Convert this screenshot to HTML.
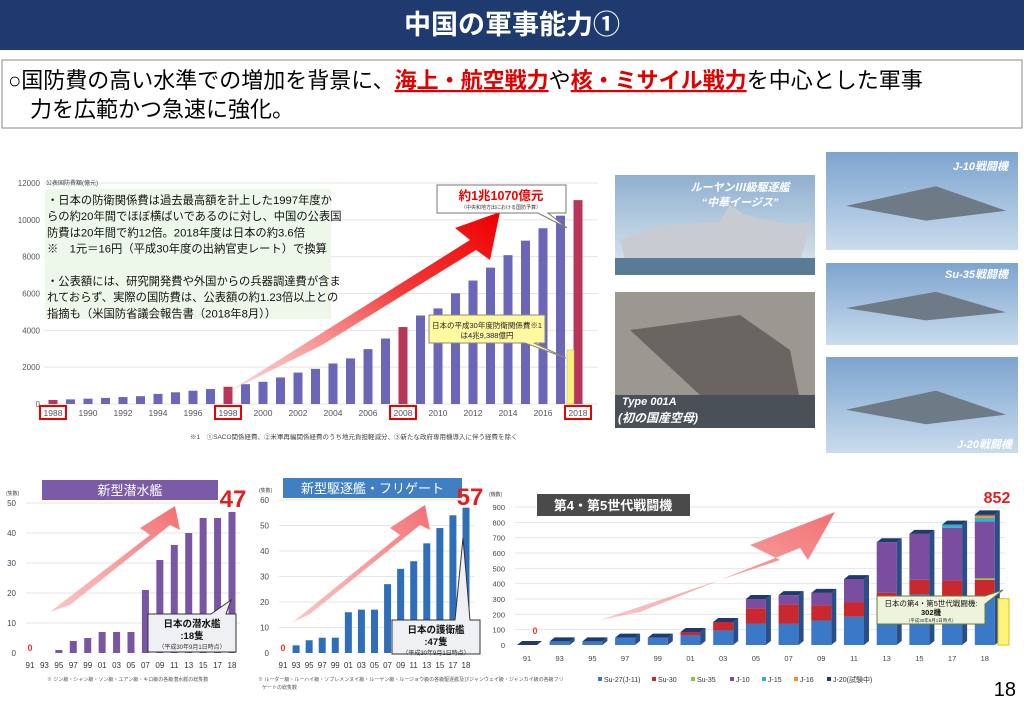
<!DOCTYPE html>
<html><head><meta charset="utf-8">
<style>
html,body{margin:0;padding:0;background:#fff;}
body{width:1024px;height:706px;overflow:hidden;font-family:"Liberation Sans","Noto Sans CJK JP",sans-serif;}
svg text{font-family:"Liberation Sans","Noto Sans CJK JP",sans-serif;}
</style></head><body>
<svg id="s" width="1024" height="706" viewBox="0 0 1024 706" xmlns="http://www.w3.org/2000/svg">
<defs>
<linearGradient id="ar" x1="0" y1="1" x2="1" y2="0"><stop offset="0" stop-color="#f8b0b0" stop-opacity="0.5"/><stop offset="0.6" stop-color="#f23a3a"/><stop offset="1" stop-color="#ee0000"/></linearGradient>
<linearGradient id="pk" x1="0" y1="1" x2="1" y2="0"><stop offset="0" stop-color="#f7a0a0" stop-opacity="0.6"/><stop offset="1" stop-color="#f26f72"/></linearGradient>
<linearGradient id="sky1" x1="0" y1="0" x2="0" y2="1"><stop offset="0" stop-color="#8fb0d0"/><stop offset="1" stop-color="#dfe8f0"/></linearGradient>
<linearGradient id="sky2" x1="0" y1="0" x2="0" y2="1"><stop offset="0" stop-color="#7da4cf"/><stop offset="1" stop-color="#c9dced"/></linearGradient>
</defs>
<rect x="0" y="0" width="1024" height="50" fill="#1f3a6e"/>
<text x="512" y="34" font-size="27" font-weight="bold" fill="#fff" text-anchor="middle">中国の軍事能力①</text>
<rect x="2" y="60" width="1020" height="68" fill="#fff" stroke="#888" stroke-width="1"/>
<text x="8" y="88" font-size="22" fill="#000">○国防費の高い水準での増加を背景に、<tspan fill="#e00000" font-weight="bold" text-decoration="underline">海上・航空戦力</tspan>や<tspan fill="#e00000" font-weight="bold" text-decoration="underline">核・ミサイル戦力</tspan>を中心とした軍事</text>
<text x="30" y="117" font-size="22" fill="#000">力を広範かつ急速に強化。</text>
<g id="top"></g>
<g id="photos"></g>
<g id="b1"></g><g id="b2"></g><g id="b3"></g>
<text x="1016" y="696" font-size="20" fill="#000" text-anchor="end">18</text>
</svg>
<script>
const NS="http://www.w3.org/2000/svg";
function el(p,t,a,txt){const e=document.createElementNS(NS,t);for(const k in a)e.setAttribute(k,a[k]);if(txt!==undefined)e.textContent=txt;document.getElementById(p).appendChild(e);return e;}
(function(){
 const y0=404,k=(404-183)/12000;
 for(let v=0;v<=12000;v+=2000){const y=y0-v*k;el('top','line',{x1:44,x2:598,y1:y,y2:y,stroke:'#e4e4e4','stroke-width':1});el('top','text',{x:40,y:y+3,'font-size':8,fill:'#555','text-anchor':'end'},v);}
 el('top','text',{x:46,y:185,'font-size':6,fill:'#444'},'公表国防費額(億元)');
 const vals=[218,251,290,330,378,425,550,636,720,813,935,1076,1205,1442,1707,1908,2200,2475,2979,3555,4178,4807,5191,6011,6703,7406,8082,8869,9544,10226,11070];
 vals.forEach((v,i)=>{const yr=1988+i;const x=53+i*17.5;const red=(yr==1988||yr==1998||yr==2008||yr==2018);
  el('top','rect',{x:x-4.5,y:y0-v*k,width:9,height:v*k,fill:red?'#b8365a':'#6b66b8'});
  if(i%2==0){el('top','text',{x:x,y:416,'font-size':8.5,fill:'#555','text-anchor':'middle'},yr);
   if(red)el('top','rect',{x:x-13,y:406,width:26,height:13,fill:'none',stroke:'#e00','stroke-width':2});}
 });
 el('top','rect',{x:45,y:189,width:286,height:130,fill:'#eef8ea'});
 const L=['・日本の防衛関係費は過去最高額を計上した1997年度か','らの約20年間でほぼ横ばいであるのに対し、中国の公表国','防費は20年間で約12倍。2018年度は日本の約3.6倍','※　1元＝16円（平成30年度の出納官吏レート）で換算','','・公表額には、研究開発費や外国からの兵器調達費が含ま','れておらず、実際の国防費は、公表額の約1.23倍以上との','指摘も（米国防省議会報告書（2018年8月））'];
 L.forEach((t,i)=>{if(t)el('top','text',{x:47,y:204+i*16.2,'font-size':11.3,fill:'#111'},t);});
 el('top','polygon',{points:'228,392 470,240 455,228 500,212 490,260 476,250 322,345',fill:'url(#ar)'});
 el('top','rect',{x:567,y:350,width:7,height:54,fill:'#fff07a',stroke:'#aa9',"stroke-width":0.5});
 el('top','polygon',{points:'437,185 566,185 566,213 548,213 567,228 538,213 437,213',fill:'#fff',stroke:'#777','stroke-width':1});
 el('top','text',{x:501,y:200,'font-size':12.5,'font-weight':'bold',fill:'#e00','text-anchor':'middle'},'約1兆1070億元');
 el('top','text',{x:501,y:209,'font-size':5,fill:'#333','text-anchor':'middle'},'（中央和地方出における国防予算）');
 el('top','polygon',{points:'429,315 545,315 545,343 534,343 566,358 525,343 429,343',fill:'#fff9a0',stroke:'#888','stroke-width':1});
 el('top','text',{x:487,y:328,'font-size':7.5,fill:'#222','text-anchor':'middle'},'日本の平成30年度防衛関係費※1');
 el('top','text',{x:487,y:338,'font-size':7.5,fill:'#222','text-anchor':'middle'},'は4兆9,388億円');
 el('top','text',{x:190,y:439,'font-size':6.5,fill:'#444'},'※1　①SACO関係経費、②米軍再編関係経費のうち地元負担軽減分、③新たな政府専用機導入に伴う経費を除く');
})();
(function(){
 el('photos','rect',{x:615,y:175,width:200,height:100,fill:'url(#sky1)'});
 el('photos','polygon',{points:'620,240 660,225 720,222 730,205 745,215 790,225 812,222 800,260 625,260',fill:'#c8ccd2'});
 el('photos','rect',{x:615,y:258,width:200,height:17,fill:'#5a7a96'});
 el('photos','text',{x:740,y:191,'font-size':11,'font-style':'italic',fill:'#fff','text-anchor':'middle','font-weight':'bold'},'ルーヤンⅢ級駆逐艦');
 el('photos','text',{x:740,y:206,'font-size':11,'font-style':'italic',fill:'#fff','text-anchor':'middle','font-weight':'bold'},'“中華イージス”');
 el('photos','rect',{x:615,y:292,width:200,height:136,fill:'#9a9890'});
 el('photos','polygon',{points:'630,330 740,315 790,350 800,400 700,395',fill:'#6a6560'});
 el('photos','rect',{x:615,y:395,width:200,height:33,fill:'#4a5058'});
 el('photos','text',{x:622,y:405,'font-size':11,'font-style':'italic',fill:'#fff','font-weight':'bold'},'Type 001A');
 el('photos','text',{x:618,y:422,'font-size':12,'font-style':'italic',fill:'#fff','font-weight':'bold'},'(初の国産空母)');
 [[826,152,98,'J-10戦闘機',170,1008],[826,263,82,'Su-35戦闘機',278,1008],[826,357,96,'J-20戦闘機',448,1012]].forEach(p=>{
  el('photos','rect',{x:p[0],y:p[1],width:192,height:p[2],fill:'url(#sky2)'});
  el('photos','polygon',{points:`${p[0]+20},${p[1]+p[2]*0.55} ${p[0]+110},${p[1]+p[2]*0.35} ${p[0]+180},${p[1]+p[2]*0.6} ${p[0]+100},${p[1]+p[2]*0.7}`,fill:'#6e7a86'});
  el('photos','text',{x:p[5],y:p[4],'font-size':11,'font-style':'italic','font-weight':'bold',fill:'#fff','text-anchor':'end'},p[3]);
 });
})();
function small(g,o){
 const {x0,x1,y0,ytop,max,step,vals,col,title,tx,tw,ty,tcol,big,bx,by}=o;
 const k=(y0-ytop)/max;
 for(let v=0;v<=max;v+=step){const y=y0-v*k;if(v>0)el(g,'line',{x1:x0-4,x2:x1+8,y1:y,y2:y,stroke:'#e6e6e6'});el(g,'text',{x:x0-14,y:y+3,'font-size':8,fill:'#445','text-anchor':'end'},v);}
 el(g,'text',{x:x0-24,y:ytop-8,'font-size':5,fill:'#444'},'(隻数)');
 const labs=['91','93','95','97','99','01','03','05','07','09','11','13','15','17','18'];
 const sp=(x1-x0)/14;
 vals.forEach((v,i)=>{const x=x0+i*sp;if(v>0)el(g,'rect',{x:x-3.5,y:y0-v*k,width:7,height:v*k,fill:col});
  el(g,'text',{x:x,y:y0+15,'font-size':8,fill:'#333','text-anchor':'middle'},labs[i]);});
 el(g,'text',{x:x0,y:y0-2,'font-size':9,'font-weight':'bold',fill:'#e33','text-anchor':'middle'},'0');
 el(g,'rect',{x:tx,y:ty,width:tw,height:20,fill:tcol});
 el(g,'text',{x:tx+tw/2,y:ty+15,'font-size':13,fill:'#fff','text-anchor':'middle'},title);
 el(g,'text',{x:bx,y:by,'font-size':24,'font-weight':'bold',fill:'#e02020','text-anchor':'middle'},big);
}
small('b1',{x0:30,x1:232,y0:653,ytop:503,max:50,step:10,vals:[0,0,1,4,5,7,7,7,21,31,36,40,45,45,47],col:'#7a55a3',title:'新型潜水艦',tx:42,tw:176,ty:480,tcol:'#7b5aa6',big:'47',bx:233,by:507});
small('b2',{x0:283,x1:466,y0:653,ytop:500,max:60,step:10,vals:[0,3,5,6,6,16,17,17,27,33,36,43,49,54,57],col:'#2f6fba',title:'新型駆逐艦・フリゲート',tx:283,tw:179,ty:478,tcol:'#3f7fc2',big:'57',bx:470,by:505});
el('b1','polygon',{points:'50,612 150,535 140,528 175,506 180,530 170,525 70,605',fill:'url(#pk)'});
el('b2','polygon',{points:'293,622 400,535 390,528 425,505 430,530 420,525 310,614',fill:'url(#pk)'});
function cb(g,x,y,w,h,l1,l2,l3,tx,ty){el(g,'polygon',{points:`${x},${y} ${x+w-25},${y} ${tx},${ty} ${x+w-10},${y} ${x+w},${y} ${x+w},${y+h} ${x},${y+h}`,fill:'#eef0f4',stroke:'#333','stroke-width':1});
 el(g,'text',{x:x+w/2,y:y+13,'font-size':9.5,'font-weight':'bold',fill:'#111','text-anchor':'middle'},l1);
 el(g,'text',{x:x+w/2,y:y+25,'font-size':9.5,'font-weight':'bold',fill:'#111','text-anchor':'middle'},l2);
 el(g,'text',{x:x+w/2,y:y+35,'font-size':6,fill:'#333','text-anchor':'middle'},l3);}
cb('b1',148,614,88,38,'日本の潜水艦',':18隻','（平成30年9月1日時点）',231,600);
cb('b2',392,620,88,34,'日本の護衛艦',':47隻','（平成30年9月1日時点）',463,538);
el('b1','text',{x:47,y:681,'font-size':5,fill:'#555'},'※ ジン級・シャン級・ソン級・ユアン級・キロ級の各級潜水艦の総隻数');
el('b2','text',{x:258,y:681,'font-size':5,fill:'#555'},'※ ルーダー級・ルーハイ級・ソブレメンヌイ級・ルーヤン級・ルージョウ級の各級駆逐艦及びジャンウェイ級・ジャンカイ級の各級フリ');
el('b2','text',{x:262,y:689,'font-size':5,fill:'#555'},'ゲートの総隻数');
(function(){
 const g='b3',y0=645,k=(645-507)/900;
 for(let v=0;v<=900;v+=100){const y=y0-v*k;if(v>0)el(g,'line',{x1:515,x2:1005,y1:y,y2:y,stroke:'#e6e6e6'});el(g,'text',{x:505,y:y+3,'font-size':7.5,fill:'#445','text-anchor':'end'},v);}
 el(g,'text',{x:489,y:496,'font-size':5,fill:'#444'},'(機数)');
 const labs=['91','93','95','97','99','01','03','05','07','09','11','13','15','17','18'];
 const cols=['#3a78c8','#c8282e','#8cc63f','#7a4da0','#2fb5c8','#f09030','#1f3a6e'];
 const D=[[0],[24],[24],[48],[48],[65,20],[95,55],[140,100,0,60],[140,125,0,60],[160,100,0,80],[185,95,0,150],[210,130,0,330],[330,95,0,300],[320,100,0,345,20],[320,105,10,370,25,15,7]];
 D.forEach((d,i)=>{const x=527+i*32.7;let y=y0;
  d.forEach((v,j)=>{if(!v)return;const h=v*k;y-=h;el(g,'rect',{x:x-10,y:y,width:20,height:h,fill:cols[j]});});
  const top=d.reduce((a,b)=>a+b,0);const ty=y0-top*k;
  el(g,'polygon',{points:`${x-10},${ty} ${x-5},${ty-4} ${x+15},${ty-4} ${x+10},${ty}`,fill:'#1f3a6e'});
  el(g,'polygon',{points:`${x+10},${ty} ${x+15},${ty-4} ${x+15},${y0-4} ${x+10},${y0}`,fill:'#2a4f86'});
  el(g,'text',{x:x,y:661,'font-size':7.5,fill:'#445','text-anchor':'middle'},labs[i]);
 });
 el(g,'text',{x:535,y:634,'font-size':9,'font-weight':'bold',fill:'#e33','text-anchor':'middle'},'0');
 el(g,'rect',{x:998,y:645-302*k,width:11,height:302*k,fill:'#fff47a',stroke:'#d8c020'});
 el(g,'polygon',{points:'600,620 780,560 750,545 835,512 808,560 800,548 640,612',fill:'url(#pk)'});
 el(g,'rect',{x:537,y:494,width:153,height:22,fill:'#4a4a4a'});
 el(g,'text',{x:613,y:510,'font-size':13,'font-weight':'bold',fill:'#fff','text-anchor':'middle'},'第4・第5世代戦闘機');
 el(g,'text',{x:997,y:503,'font-size':16,'font-weight':'bold',fill:'#e02020','text-anchor':'middle'},'852');
 el(g,'polygon',{points:'877,596 985,596 1003,590 985,604 985,624 877,624',fill:'#eef4dc',stroke:'#6a7a3a','stroke-width':1});
 el(g,'text',{x:931,y:606,'font-size':7.5,fill:'#111','text-anchor':'middle'},'日本の第4・第5世代戦闘機:');
 el(g,'text',{x:931,y:615,'font-size':7.5,'font-weight':'bold',fill:'#111','text-anchor':'middle'},'302機');
 el(g,'text',{x:931,y:622,'font-size':4.5,fill:'#333','text-anchor':'middle'},'（平成30年9月1日時点）');
 const leg=['Su-27(J-11)','Su-30','Su-35','J-10','J-15','J-16','J-20(試験中)'];
 const lx=[598,652,691,730,762,794,827];
 leg.forEach((t,i)=>{el(g,'rect',{x:lx[i],y:677,width:4,height:4,fill:cols[i]});el(g,'text',{x:lx[i]+6,y:682,'font-size':7,fill:'#333'},t);});
})();
</script>
</body></html>
